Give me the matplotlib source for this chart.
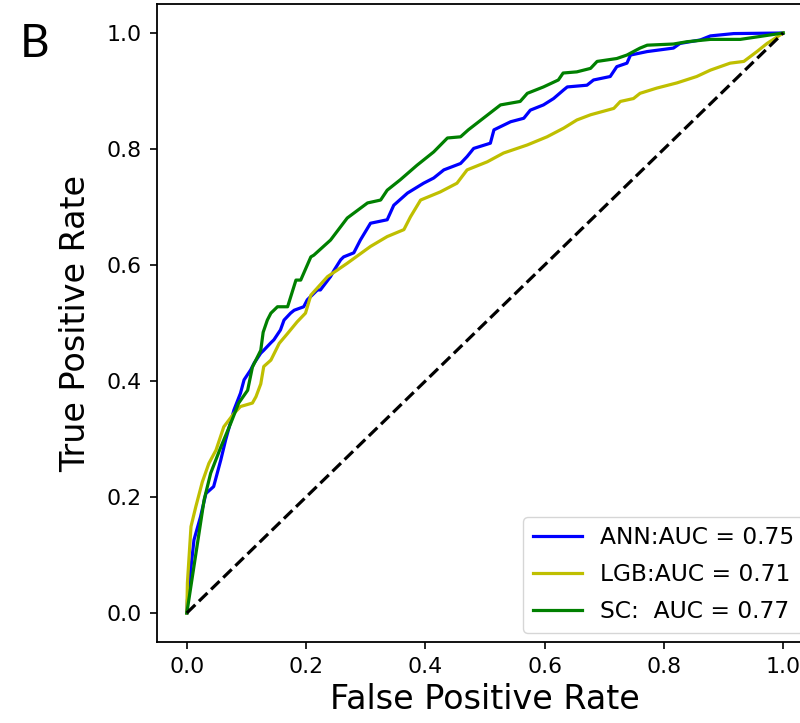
import matplotlib
matplotlib.use("Agg")
import matplotlib.pyplot as plt

# ANN curve (FPR, TPR)
ann_fpr = [0, 0.001, 0.012, 0.023, 0.032, 0.045, 0.051, 0.057, 0.065, 0.079, 0.090, 0.096,
           0.107, 0.113, 0.124, 0.129, 0.141, 0.146, 0.157, 0.163, 0.174, 0.180, 0.196, 0.202,
           0.219, 0.224, 0.241, 0.247, 0.258, 0.263, 0.280, 0.291, 0.308, 0.336, 0.347, 0.370,
           0.397, 0.414, 0.431, 0.459, 0.470, 0.481, 0.509, 0.515, 0.543, 0.565, 0.576, 0.598,
           0.615, 0.632, 0.638, 0.671, 0.682, 0.710, 0.721, 0.738, 0.744, 0.772, 0.816, 0.827,
           0.861, 0.878, 0.917, 1.0]
ann_tpr = [0, 0.022, 0.126, 0.166, 0.206, 0.218, 0.241, 0.264, 0.298, 0.350, 0.379, 0.402,
           0.419, 0.431, 0.448, 0.453, 0.466, 0.471, 0.488, 0.505, 0.517, 0.522, 0.528, 0.540,
           0.557, 0.557, 0.580, 0.591, 0.609, 0.614, 0.621, 0.643, 0.672, 0.678, 0.703, 0.724,
           0.741, 0.750, 0.764, 0.775, 0.787, 0.801, 0.810, 0.833, 0.847, 0.853, 0.867, 0.876,
           0.887, 0.902, 0.907, 0.910, 0.919, 0.925, 0.942, 0.948, 0.962, 0.968, 0.974, 0.982,
           0.988, 0.995, 0.999, 1.0]

# LGB curve
lgb_fpr = [0, 0.001, 0.007, 0.015, 0.026, 0.037, 0.049, 0.062, 0.079, 0.090, 0.110, 0.116,
           0.124, 0.129, 0.141, 0.155, 0.169, 0.185, 0.199, 0.208, 0.236, 0.252, 0.269, 0.308,
           0.336, 0.364, 0.375, 0.392, 0.425, 0.453, 0.470, 0.504, 0.531, 0.571, 0.604, 0.632,
           0.654, 0.677, 0.716, 0.727, 0.749, 0.760, 0.788, 0.822, 0.855, 0.878, 0.911, 0.934,
           0.956, 0.973, 1.0]
lgb_tpr = [0, 0.052, 0.149, 0.183, 0.226, 0.258, 0.281, 0.321, 0.344, 0.356, 0.362, 0.373,
           0.395, 0.425, 0.436, 0.465, 0.482, 0.502, 0.517, 0.548, 0.580, 0.591, 0.603, 0.632,
           0.649, 0.661, 0.683, 0.712, 0.726, 0.741, 0.764, 0.778, 0.793, 0.807, 0.821, 0.836,
           0.850, 0.859, 0.870, 0.882, 0.887, 0.896, 0.905, 0.914, 0.925, 0.936, 0.948, 0.951,
           0.968, 0.982, 1.0]

# SC curve
sc_fpr = [0, 0.029, 0.040, 0.057, 0.074, 0.087, 0.102, 0.110, 0.124, 0.128, 0.135, 0.141,
          0.152, 0.169, 0.183, 0.191, 0.208, 0.213, 0.241, 0.269, 0.303, 0.325, 0.336, 0.358,
          0.386, 0.414, 0.437, 0.459, 0.472, 0.526, 0.559, 0.571, 0.598, 0.623, 0.631, 0.654,
          0.677, 0.688, 0.721, 0.738, 0.760, 0.772, 0.816, 0.839, 0.878, 0.928, 0.961, 1.0]
sc_tpr = [0, 0.195, 0.241, 0.286, 0.328, 0.362, 0.384, 0.424, 0.453, 0.484, 0.505, 0.517,
          0.528, 0.528, 0.574, 0.574, 0.614, 0.617, 0.643, 0.681, 0.707, 0.712, 0.729, 0.747,
          0.772, 0.795, 0.819, 0.821, 0.833, 0.876, 0.882, 0.896, 0.907, 0.919, 0.931, 0.933,
          0.939, 0.951, 0.956, 0.962, 0.974, 0.979, 0.981, 0.985, 0.989, 0.989, 0.994, 1.0]

labels = ["ANN:AUC = 0.75", "LGB:AUC = 0.71", "SC:  AUC = 0.77"]
colors = ["blue", "y", "green"]
diag = [0, 1]
xticks = [0.0, 0.2, 0.4, 0.6, 0.8, 1.0]
yticks = [0.0, 0.2, 0.4, 0.6, 0.8, 1.0]

fig = plt.figure(figsize=(8, 7.23), dpi=100)
ax = fig.add_axes([157 / 800, 81 / 723, 656 / 800, 638 / 723])

for fx, ty, lab, c in zip([ann_fpr, lgb_fpr, sc_fpr], [ann_tpr, lgb_tpr, sc_tpr], labels, colors):
    ax.plot(fx, ty, color=c, lw=2.3, label=lab)
ax.plot(diag, diag, color="black", lw=2.3, ls="--")

ax.set_xlim(-0.05, 1.05)
ax.set_ylim(-0.05, 1.05)
ax.set_xticks(xticks)
ax.set_yticks(yticks)
ax.set_xticklabels([f"{v:.1f}" for v in xticks])
ax.set_yticklabels([f"{v:.1f}" for v in yticks])
ax.tick_params(labelsize=15.8, length=5, width=1.2, pad=6)
for s in ax.spines.values():
    s.set_linewidth(1.3)
ax.set_xlabel("False Positive Rate", fontsize=24, labelpad=4)
ax.set_ylabel("True Positive Rate", fontsize=24, labelpad=10)

ax.legend(loc="lower right", fontsize=16.8, handlelength=2.1, framealpha=0.8,
          edgecolor="#cccccc", borderaxespad=0.4, labelspacing=0.6)

fig.text(20 / 800, 1 - 57 / 723, "B", fontsize=33, family="Lato", va="baseline")

fig.savefig("out.png", dpi=100)
